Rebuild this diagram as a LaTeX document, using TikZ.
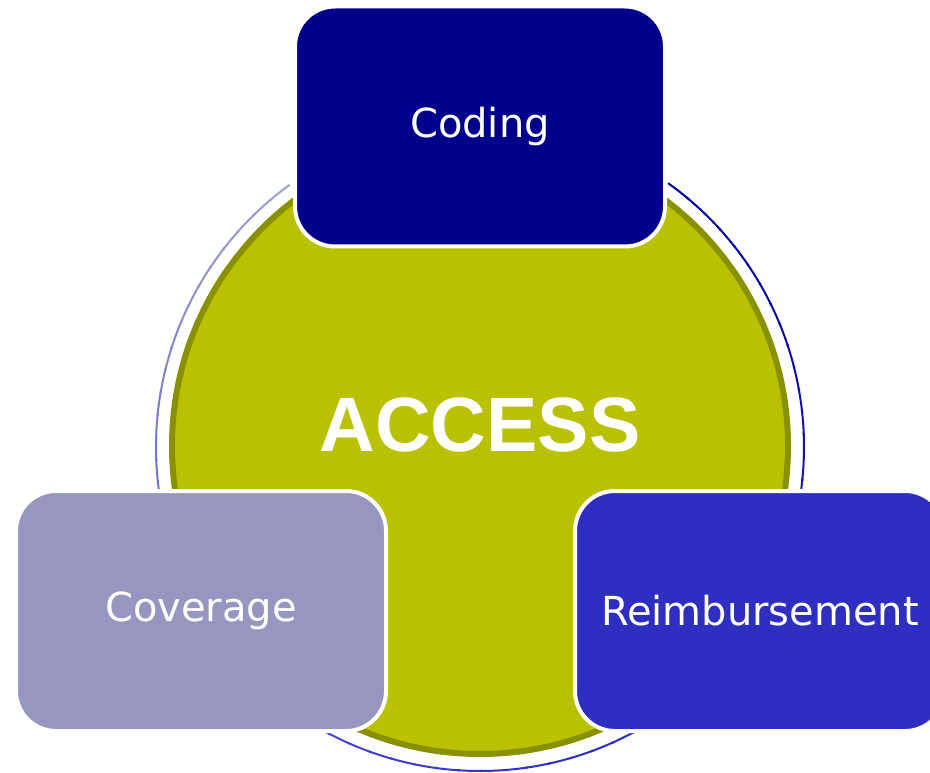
\documentclass[tikz,border=0pt]{standalone}
\usepackage{fontspec}
\setmainfont{DejaVu Sans}
\newfontfamily\accessfont{Liberation Sans}
\usetikzlibrary{calc}
\definecolor{accessgreen}{RGB}{185,193,0}
\definecolor{accessolive}{RGB}{138,145,0}
\definecolor{codingblue}{RGB}{0,0,139}
\definecolor{coveragelav}{RGB}{150,150,192}
\definecolor{reimbblue}{RGB}{46,46,192}
\definecolor{ringlav}{RGB}{160,160,205}
\definecolor{ringblue}{RGB}{50,50,205}
\definecolor{ringnavy}{RGB}{0,0,150}
\tikzset{
  topic/.style={
    rectangle,
    rounded corners=40pt,
    draw=white,
    line width=4pt,
    minimum width=370pt,
    minimum height=240pt,
    inner sep=0pt,
    text=white,
    font=\fontsize{40}{48}\selectfont
  },
  hub/.style={circle, fill=accessgreen, draw=accessolive, line width=6pt, minimum size=616pt, inner sep=0pt},
  hub-label/.style={text=white, font=\accessfont\bfseries\fontsize{77}{90}\selectfont},
  ring/.style={line width=2pt}
}

\begin{document}
\begin{tikzpicture}[x=1pt,y=-1pt]
  \useasboundingbox (0,0) rectangle (930,773);

  % 1. Thin outer ring, lavender on the left to navy on the right
  \coordinate (ringc) at (480,447);
  \foreach \a [evaluate=\a as \p using {(\a-126)/1.44}] in {126,130,...,266}
    \draw[ring, ringblue!\p!ringlav] ($(ringc)+(-\a:324)$) arc[start angle=-\a, end angle=-\a-4.5, radius=324];
  \foreach \a [evaluate=\a as \p using {(\a-270)/1.44}] in {270,274,...,410}
    \draw[ring, ringnavy!\p!ringblue] ($(ringc)+(-\a:324)$) arc[start angle=-\a, end angle=-\a-4.5, radius=324];

  % 2. The big disc
  \node[hub] (access) at (480,446) {};
  \node[hub-label] (title) at (480,425) {ACCESS};

  % 3. The three boxes on top
  \node[topic, fill=codingblue] (coding) at (480,126.5) {Coding};
  \node[topic, fill=coveragelav] (coverage) at (201,611) {Coverage};
  \node[topic, fill=reimbblue] (reimb) at (760,611) {Reimbursement};

\end{tikzpicture}
\end{document}
